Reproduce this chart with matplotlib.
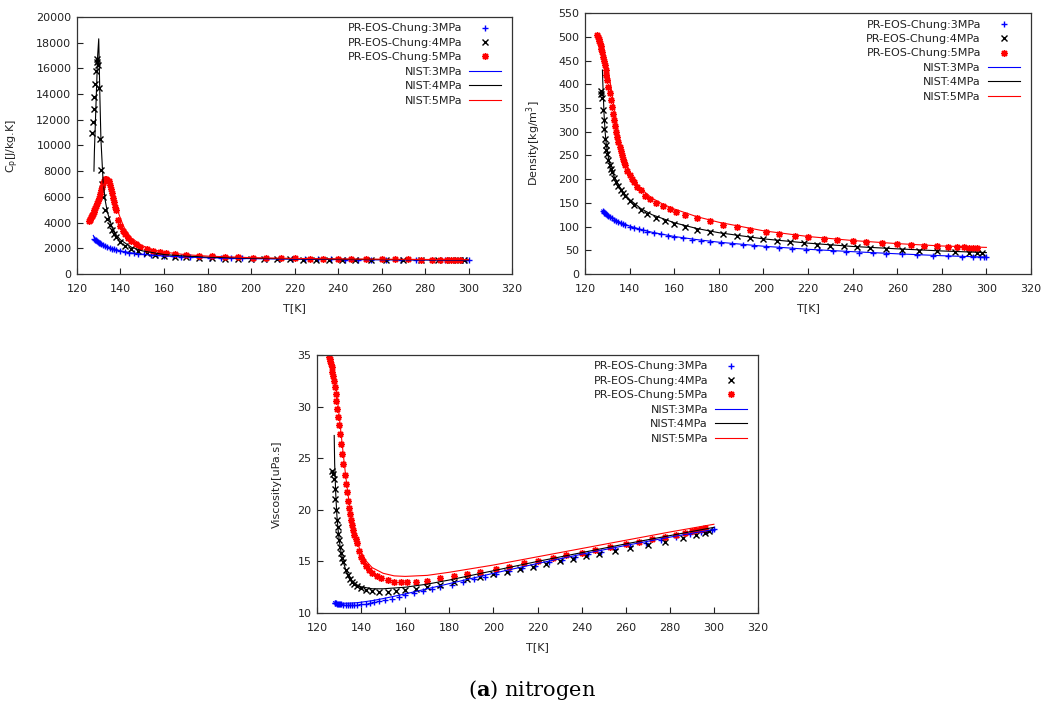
import matplotlib
matplotlib.use("Agg")
import matplotlib.pyplot as plt

plt.rcParams['font.family'] = ['DejaVu Sans']
plt.rcParams['mathtext.fontset'] = 'dejavusans'

# ---- PR-EOS-Chung (markers) ----
T3 = [128, 128.3, 128.6, 129, 129.5, 130, 130.5, 131, 132, 133,
      134, 135, 136, 137, 138, 140, 142, 144, 146, 148,
      151, 154, 157, 160, 164, 168, 172, 176, 181, 186,
      191, 196, 201, 207, 213, 219, 225, 231, 237, 243,
      249, 255, 262, 269, 276, 283, 289, 294, 297, 299, 300]
T4 = [127, 127.3, 127.6, 128, 128.3, 128.6, 129, 129.3, 129.6, 130,
      130.5, 131, 131.5, 132, 133, 134, 135, 136, 137, 138,
      140, 142, 145, 148, 152, 156, 160, 165, 170, 176,
      182, 188, 194, 200, 206, 212, 218, 224, 230, 236,
      242, 248, 255, 262, 270, 278, 286, 292, 296, 298]
T5 = [125.5, 125.8, 126.1, 126.4, 126.7, 127, 127.3, 127.6, 128, 128.4,
      128.8, 129.2, 129.6, 130, 130.5, 131, 131.5, 132, 132.5, 133,
      133.5, 134, 134.5, 135, 135.5, 136, 136.5, 137, 137.5, 138,
      139, 140, 141, 142, 143.5, 145, 147, 149, 152, 155,
      158, 161, 165, 170, 176, 182, 188, 194, 201, 207,
      214, 220, 227, 233, 240, 246, 253, 260, 266, 272,
      278, 283, 287, 290, 292, 294, 296]

cp3 = [2700, 2660, 2620, 2570, 2500, 2440, 2390, 2340, 2250, 2170,
       2100, 2030, 1970, 1920, 1870, 1790, 1720, 1660, 1610, 1570,
       1520, 1480, 1440, 1410, 1370, 1340, 1310, 1290, 1265, 1245,
       1225, 1210, 1195, 1180, 1168, 1156, 1146, 1136, 1128, 1120,
       1112, 1105, 1098, 1092, 1086, 1080, 1076, 1072, 1070, 1068, 1068]
cp4 = [11000, 11800, 12800, 13800, 14800, 15800, 16500, 16700, 16300, 14500,
       10500, 8100, 7000, 6000, 5000, 4300, 3800, 3400, 3100, 2850,
       2450, 2200, 1950, 1780, 1610, 1500, 1420, 1350, 1300, 1250,
       1215, 1190, 1170, 1155, 1145, 1135, 1128, 1122, 1117, 1112,
       1108, 1104, 1100, 1096, 1092, 1089, 1086, 1084, 1083, 1082]
cp5 = [4100, 4200, 4300, 4400, 4500, 4600, 4700, 4820, 5000, 5150,
       5320, 5500, 5700, 5900, 6200, 6500, 6800, 7050, 7250, 7380,
       7400, 7350, 7200, 6950, 6650, 6300, 5950, 5600, 5250, 4950,
       4200, 3700, 3350, 3100, 2800, 2550, 2300, 2100, 1920, 1800,
       1700, 1620, 1540, 1470, 1410, 1360, 1320, 1290, 1260, 1240,
       1220, 1205, 1190, 1180, 1170, 1160, 1150, 1142, 1135, 1128,
       1122, 1117, 1114, 1112, 1110, 1108, 1106]

rho3 = [133, 131, 129.5, 127.5, 125.5, 123.5, 121.5, 120, 117, 114,
        111.5, 109, 107, 105, 103, 100, 97, 94.5, 92, 89.5,
        86.5, 83.5, 80.5, 78, 75, 72.5, 70, 67.5, 65, 62.5,
        60.5, 58.5, 56.5, 54.5, 52.5, 51, 49.5, 48, 46.5, 45,
        43.8, 42.6, 41.3, 40, 38.8, 37.6, 36.6, 35.8, 35.3, 35, 34.8]
rho4 = [385, 380, 370, 345, 325, 305, 285, 272, 262, 252,
        240, 230, 222, 215, 203, 193, 185, 177, 170, 164,
        153, 145, 135, 127, 118, 111, 105, 99, 93, 88,
        84, 80, 76, 73, 70, 67, 65, 62, 60, 58,
        56, 55, 53, 51, 49, 48, 46, 45, 45, 44]
rho5 = [503, 500, 496, 491, 486, 480, 474, 467, 458, 449,
        440, 430, 420, 409, 395, 381, 366, 352, 338, 325,
        312, 300, 289, 278, 268, 259, 251, 243, 236, 229,
        218, 209, 201, 194, 184, 176, 165, 158, 150, 143,
        137, 131, 125, 118, 111, 104, 98, 93, 88, 84,
        80, 77, 74, 71.5, 69, 67, 65, 63, 61.5, 60,
        58.5, 57.5, 56.5, 56, 55.5, 55, 54.5]

mu3 = [11.0, 10.98, 10.95, 10.92, 10.9, 10.87, 10.85, 10.83, 10.8, 10.78,
       10.77, 10.77, 10.78, 10.79, 10.8, 10.85, 10.9, 10.97, 11.05, 11.13,
       11.25, 11.4, 11.55, 11.7, 11.9, 12.1, 12.3, 12.5, 12.75, 13.0,
       13.25, 13.5, 13.75, 14.05, 14.35, 14.6, 14.9, 15.15, 15.45, 15.7,
       15.95, 16.2, 16.5, 16.8, 17.1, 17.4, 17.65, 17.85, 17.95, 18.05, 18.1]
mu4 = [23.8, 23.5, 23.0, 22.0, 21.0, 20.0, 19.0, 18.3, 17.7, 17.1,
       16.4, 15.8, 15.3, 14.9, 14.2, 13.7, 13.3, 13.0, 12.8, 12.6,
       12.4, 12.25, 12.1, 12.05, 12.05, 12.1, 12.2, 12.35, 12.5, 12.75,
       13.0, 13.25, 13.5, 13.75, 14.0, 14.25, 14.5, 14.75, 15.0, 15.25,
       15.5, 15.75, 16.0, 16.3, 16.6, 16.9, 17.3, 17.6, 17.8, 17.9]
mu5 = [34.8, 34.6, 34.4, 34.1, 33.8, 33.4, 33.0, 32.5, 31.9, 31.2,
       30.5, 29.8, 29.0, 28.2, 27.3, 26.4, 25.4, 24.4, 23.4, 22.5,
       21.7, 20.9, 20.2, 19.6, 19.0, 18.5, 18.0, 17.6, 17.2, 16.8,
       16.0, 15.4, 15.0, 14.6, 14.2, 13.9, 13.6, 13.4, 13.2, 13.05,
       13.0, 13.0, 13.05, 13.15, 13.35, 13.55, 13.75, 14.0, 14.25, 14.5,
       14.8, 15.05, 15.35, 15.6, 15.85, 16.1, 16.35, 16.65, 16.9, 17.15,
       17.4, 17.6, 17.8, 17.9, 18.0, 18.1, 18.2]

# ---- NIST (lines) ----
Tn3 = [127.5, 128, 129, 130, 132, 134, 136, 138, 140, 145,
       150, 160, 170, 180, 200, 220, 240, 260, 280, 300]
Tn4 = [127.8, 128, 128.5, 129, 129.5, 130, 130.5, 131, 132, 133,
       134, 136, 138, 140, 145, 150, 160, 170, 180, 200,
       220, 240, 260, 280, 300]
Tn5 = [126, 127, 128, 129, 130, 131, 132, 133, 134, 135,
       136, 137, 138, 139, 140, 142, 145, 150, 155, 160,
       170, 180, 200, 220, 240, 260, 280, 300]

cpn3 = [3000, 2800, 2620, 2480, 2280, 2120, 1990, 1890, 1800, 1640,
        1530, 1400, 1320, 1260, 1190, 1150, 1120, 1100, 1085, 1072]
cpn4 = [8000, 9500, 12000, 14500, 17000, 18300, 14000, 10500, 7200, 5700,
        4800, 3700, 3050, 2650, 2080, 1800, 1510, 1390, 1310, 1225,
        1175, 1145, 1120, 1105, 1090]
cpn5 = [4200, 4500, 4850, 5250, 5700, 6250, 6850, 7300, 7450, 7300,
        6800, 6100, 5400, 4800, 4300, 3500, 2800, 2200, 1880, 1700,
        1500, 1390, 1270, 1210, 1175, 1150, 1130, 1115]

rhon3 = [135, 133, 129.5, 126, 119, 113, 108.5, 104.5, 101, 94,
         88, 79, 72.5, 67, 58.5, 52, 47, 42.5, 38.5, 35.5]
rhon4 = [430, 400, 340, 300, 275, 258, 245, 235, 218, 206,
         196, 180, 167, 157, 138, 125, 108, 96, 87, 74,
         65, 58, 53, 48.5, 45]
rhon5 = [505, 495, 480, 462, 440, 413, 383, 352, 323, 297,
         275, 256, 240, 227, 216, 199, 180, 160, 147, 137,
         121, 109, 91, 79, 70.5, 64, 59, 56]

mun3 = [11.1, 11.05, 11.0, 10.97, 10.95, 10.95, 10.97, 11.0, 11.05, 11.2,
        11.4, 11.85, 12.35, 12.85, 13.85, 14.8, 15.7, 16.55, 17.35, 18.1]
mun4 = [27.2, 24.5, 21.5, 19.5, 18.2, 17.2, 16.4, 15.8, 14.9, 14.2,
        13.7, 13.1, 12.75, 12.55, 12.35, 12.35, 12.5, 12.8, 13.2, 14.1,
        15.0, 15.85, 16.7, 17.5, 18.3]
mun5 = [35.0, 34.3, 33.0, 31.2, 29.2, 27.2, 25.2, 23.3, 21.6, 20.1,
        18.9, 17.9, 17.1, 16.4, 15.9, 15.1, 14.4, 13.85, 13.6, 13.55,
        13.65, 13.95, 14.65, 15.45, 16.25, 17.05, 17.85, 18.6]

labels_eos = ['PR-EOS-Chung:3MPa', 'PR-EOS-Chung:4MPa', 'PR-EOS-Chung:5MPa']
labels_nist = ['NIST:3MPa', 'NIST:4MPa', 'NIST:5MPa']
colors = ['#0000ff', '#000000', '#ff0000']
markers = ['+', 'x', (8, 2, 0)]
txt = '#222222'


def panel(ax, ys, yn, ylim, yticks, ylabel):
    for T, y, c, m, lab in zip([T3, T4, T5], ys, colors, markers, labels_eos):
        ax.plot(T, y, linestyle='none', marker=m, color=c, ms=5, mew=1.0, label=lab)
    for T, y, c, lab in zip([Tn3, Tn4, Tn5], yn, colors, labels_nist):
        ax.plot(T, y, color=c, lw=0.8, label=lab)
    ax.set_xlim(120, 320)
    ax.set_ylim(*ylim)
    ax.set_xticks(range(120, 321, 20))
    ax.set_yticks(yticks)
    ax.tick_params(direction='in', length=4, width=0.8, labelsize=8, colors=txt)
    ax.tick_params(axis='x', pad=7)
    ax.tick_params(axis='y', pad=4)
    for s in ax.spines.values():
        s.set_color('#333333')
        s.set_linewidth(0.9)
    ax.set_xlabel('T[K]', fontsize=8, color=txt, labelpad=7)
    ax.set_ylabel(ylabel, fontsize=8, color=txt, labelpad=11)
    leg = ax.legend(loc='upper right', bbox_to_anchor=(0.975, 0.975), markerfirst=False,
                    frameon=False, fontsize=8, handlelength=2.9, handletextpad=0.6,
                    labelspacing=0.4, borderpad=0, borderaxespad=0)
    for t in leg.get_texts():
        t.set_color(txt)


fig = plt.figure(figsize=(10.56, 7.07), dpi=100)
ax1 = fig.add_axes([0.0729, 0.6125, 0.412, 0.3635])
ax2 = fig.add_axes([0.554, 0.6125, 0.4223, 0.369])
ax3 = fig.add_axes([0.3002, 0.1329, 0.4176, 0.365])

panel(ax1, [cp3, cp4, cp5], [cpn3, cpn4, cpn5], (0, 20000), range(0, 20001, 2000), 'C$_\\mathregular{p}$[J/kg.K]')
panel(ax2, [rho3, rho4, rho5], [rhon3, rhon4, rhon5], (0, 550), range(0, 551, 50), 'Density[kg/m$^\\mathregular{3}$]')
panel(ax3, [mu3, mu4, mu5], [mun3, mun4, mun5], (10, 35), range(10, 36, 5), 'Viscosity[uPa.s]')

fig.text(0.504, 0.024, '($\\mathbf{a}$) nitrogen', ha='center', va='center',
         fontsize=15, family='DejaVu Serif', math_fontfamily='dejavuserif')

fig.savefig('out.png', dpi=100)
